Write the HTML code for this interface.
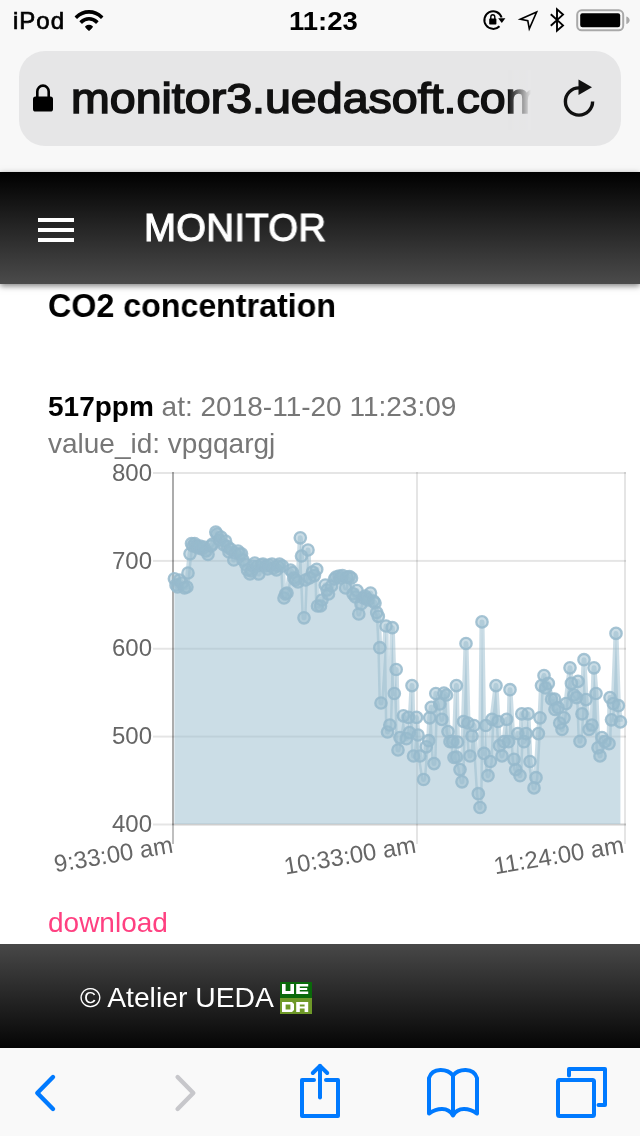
<!DOCTYPE html>
<html><head><meta charset="utf-8">
<style>
html,body{margin:0;padding:0;}
body{width:640px;height:1136px;position:relative;overflow:hidden;background:#fff;font-family:"Liberation Sans",sans-serif;}
.abs{position:absolute;}
.t{position:absolute;white-space:nowrap;transform-origin:0 50%;will-change:transform;}
#chrome{left:0;top:0;width:640px;height:172px;background:#f8f8f8;}
#urlbar{left:19px;top:51px;width:602px;height:95px;border-radius:26px;background:#e6e6e7;}
#url{left:71px;top:73px;font-size:42px;line-height:52px;color:#111;-webkit-text-stroke:1.5px #111;transform:scaleX(1.108);}
#urlfade{left:500px;top:70px;width:60px;height:60px;background:linear-gradient(90deg,rgba(230,230,231,0) 8px,rgba(230,230,231,1) 31px);}
#header{left:0;top:172px;width:640px;height:112px;background:linear-gradient(#000,#4b4b4b);box-shadow:0 2px 6px rgba(0,0,0,0.5);}
#title{left:143.6px;top:202.7px;font-size:38.5px;letter-spacing:0.3px;transform:scaleX(0.996);line-height:50px;color:#fff;-webkit-text-stroke:1.1px #fff;}
.bar{left:38px;width:36px;height:4px;background:#fff;}
#h3{left:48px;top:287.5px;transform:scaleX(0.983);font-size:32.76px;line-height:36px;font-weight:bold;color:#000;}
#l1{left:48px;top:390.7px;font-size:28px;line-height:32px;color:#777;}
#l1 b{color:#000;}
#l2{left:48px;top:427.5px;font-size:28px;line-height:32px;color:#777;}
.chart{position:absolute;left:0;top:460px;}
#dl{left:48px;top:906px;font-size:28px;line-height:34px;color:#ff4081;}
#footer{left:0;top:944px;width:640px;height:104px;background:linear-gradient(#484848,#050505);}
#copy{left:80px;top:981px;font-size:28.3px;line-height:32px;color:#fff;}
#toolbar{left:0;top:1048px;width:640px;height:88px;background:#f9f9f9;}
svg.ov{position:absolute;left:0;top:0;}
</style></head><body>
<div id="chrome" class="abs"></div>
<div class="t" style="left:12.5px;top:8px;line-height:26px;font-size:24px;letter-spacing:1px;transform:scaleX(1.0);-webkit-text-stroke:0.7px #000;">iPod</div>
<div class="t" style="left:289px;top:7.5px;line-height:26px;font-size:25px;font-weight:bold;transform:scaleX(1.1);">11:23</div>
<div id="urlbar" class="abs"></div>
<div id="url" class="t">monitor3.uedasoft.com</div>
<div id="urlfade" class="abs"></div>
<div id="header" class="abs"></div>
<div class="abs bar" style="top:218px"></div><div class="abs bar" style="top:228px"></div><div class="abs bar" style="top:238px"></div>
<div id="title" class="t">MONITOR</div>
<div id="h3" class="t">CO2 concentration</div>
<div id="l1" class="t"><b>517ppm</b> at: 2018-11-20 11:23:09</div>
<div id="l2" class="t">value_id: vpgqargj</div>
<svg class="chart" style="will-change:transform" width="640" height="440" viewBox="0 460 640 440">
<g><rect x="153" y="472" width="473" height="2" fill="rgba(0,0,0,0.1)"/><rect x="153" y="559.9" width="473" height="2" fill="rgba(0,0,0,0.1)"/><rect x="153" y="647.75" width="473" height="2" fill="rgba(0,0,0,0.1)"/><rect x="153" y="735.6" width="473" height="2" fill="rgba(0,0,0,0.1)"/><rect x="153" y="823.5" width="473" height="2" fill="rgba(0,0,0,0.1)"/><rect x="172" y="823.5" width="454" height="2" fill="rgba(0,0,0,0.1)"/><rect x="416" y="472" width="2" height="372" fill="rgba(0,0,0,0.1)"/><rect x="624" y="472" width="2" height="372" fill="rgba(0,0,0,0.1)"/><rect x="172" y="472" width="2" height="372" fill="rgba(0,0,0,0.25)"/><rect x="172" y="472" width="2" height="353" fill="rgba(0,0,0,0.1)"/></g>
<path d="M174.4,824 L174.4,578.8 L176.0,585.0 L177.5,587.0 L179.5,580.0 L182.0,583.0 L184.5,588.0 L186.9,587.0 L188.0,573.0 L190.0,553.8 L191.5,543.6 L193.0,546.0 L194.7,543.6 L196.5,546.0 L198.0,548.0 L200.0,546.0 L202.0,549.0 L204.0,547.0 L206.0,551.0 L208.0,554.5 L211.0,546.0 L212.5,544.0 L215.8,532.0 L217.0,534.0 L219.5,540.0 L221.0,537.0 L224.0,545.0 L225.5,541.0 L227.5,546.7 L229.0,552.0 L230.5,549.0 L233.8,560.0 L235.0,553.0 L238.0,551.0 L239.5,554.0 L241.5,553.8 L243.0,560.0 L246.0,564.7 L247.5,570.0 L250.0,574.0 L251.5,571.0 L253.0,566.0 L254.8,563.0 L257.5,566.0 L258.8,574.0 L261.5,565.0 L263.0,564.0 L266.0,566.0 L267.5,569.0 L269.0,565.0 L272.0,564.0 L273.5,568.0 L276.5,570.0 L278.0,566.0 L279.5,564.0 L282.5,566.0 L284.0,598.0 L285.5,594.0 L287.0,593.0 L290.5,570.0 L292.5,572.5 L294.0,578.0 L295.5,580.0 L298.0,582.0 L300.3,537.8 L301.5,556.0 L304.0,617.8 L305.5,580.0 L308.0,550.0 L309.5,578.0 L312.5,572.0 L314.4,575.6 L316.7,569.4 L317.5,606.0 L320.5,606.0 L322.0,600.0 L325.3,585.0 L327.0,590.0 L328.5,594.0 L331.5,586.0 L334.5,579.0 L336.0,577.0 L339.0,576.0 L340.5,578.0 L342.5,575.6 L345.6,588.0 L347.0,577.0 L349.4,576.6 L351.5,578.0 L353.0,593.8 L355.5,597.0 L357.0,590.6 L358.8,614.0 L361.0,604.0 L363.5,598.0 L365.0,596.0 L366.5,598.0 L368.0,600.0 L370.5,593.0 L373.5,601.0 L375.0,603.0 L376.7,612.5 L378.3,616.4 L379.8,647.7 L381.0,703.0 L386.0,626.0 L387.5,732.0 L389.8,725.0 L392.3,627.7 L394.3,693.5 L396.2,669.5 L398.0,750.0 L400.0,737.6 L403.4,715.8 L406.4,738.7 L408.5,717.4 L409.5,732.6 L412.0,685.6 L413.5,756.0 L416.5,717.4 L418.0,735.0 L420.0,756.0 L423.6,779.5 L426.3,746.8 L428.7,740.7 L429.7,717.8 L431.3,707.3 L434.0,763.6 L435.8,693.5 L439.8,704.0 L441.9,719.4 L443.9,693.0 L446.5,695.0 L448.0,731.6 L450.0,741.7 L452.6,741.7 L454.0,757.5 L456.4,685.6 L457.5,742.0 L456.5,757.0 L460.0,769.6 L462.0,781.8 L463.5,721.5 L466.0,643.5 L468.0,723.0 L470.0,756.0 L472.0,736.0 L474.0,725.5 L478.3,793.7 L480.0,807.5 L482.0,621.9 L484.0,753.4 L485.8,725.5 L488.0,775.7 L490.4,761.5 L492.0,719.4 L496.0,685.6 L498.0,721.5 L499.5,745.7 L502.0,755.9 L504.0,741.7 L506.6,719.4 L508.6,741.7 L510.0,689.7 L514.0,759.3 L515.7,769.6 L517.8,733.6 L520.0,775.7 L521.8,713.8 L524.0,741.7 L526.0,733.6 L528.0,713.8 L530.0,761.5 L534.0,787.9 L536.0,777.7 L538.4,733.6 L540.0,717.8 L541.5,685.6 L544.0,675.5 L545.6,688.0 L548.3,683.4 L551.6,699.2 L554.6,699.0 L555.0,709.5 L558.0,707.7 L559.7,723.0 L562.0,729.5 L564.0,717.8 L566.0,703.6 L570.0,667.8 L571.4,683.4 L574.0,695.0 L576.5,697.6 L578.0,681.4 L580.0,741.3 L582.0,713.8 L584.0,659.7 L586.0,699.6 L589.0,729.5 L592.0,725.0 L594.0,667.8 L596.0,693.5 L598.0,747.8 L600.0,755.9 L602.0,737.6 L604.8,741.7 L609.0,743.7 L610.0,697.6 L611.5,719.8 L613.3,703.6 L616.0,633.4 L618.4,705.7 L620.4,721.9 L620.4,824 Z" fill="rgba(151,187,205,0.5)"/>
<polyline points="174.4,578.8 176.0,585.0 177.5,587.0 179.5,580.0 182.0,583.0 184.5,588.0 186.9,587.0 188.0,573.0 190.0,553.8 191.5,543.6 193.0,546.0 194.7,543.6 196.5,546.0 198.0,548.0 200.0,546.0 202.0,549.0 204.0,547.0 206.0,551.0 208.0,554.5 211.0,546.0 212.5,544.0 215.8,532.0 217.0,534.0 219.5,540.0 221.0,537.0 224.0,545.0 225.5,541.0 227.5,546.7 229.0,552.0 230.5,549.0 233.8,560.0 235.0,553.0 238.0,551.0 239.5,554.0 241.5,553.8 243.0,560.0 246.0,564.7 247.5,570.0 250.0,574.0 251.5,571.0 253.0,566.0 254.8,563.0 257.5,566.0 258.8,574.0 261.5,565.0 263.0,564.0 266.0,566.0 267.5,569.0 269.0,565.0 272.0,564.0 273.5,568.0 276.5,570.0 278.0,566.0 279.5,564.0 282.5,566.0 284.0,598.0 285.5,594.0 287.0,593.0 290.5,570.0 292.5,572.5 294.0,578.0 295.5,580.0 298.0,582.0 300.3,537.8 301.5,556.0 304.0,617.8 305.5,580.0 308.0,550.0 309.5,578.0 312.5,572.0 314.4,575.6 316.7,569.4 317.5,606.0 320.5,606.0 322.0,600.0 325.3,585.0 327.0,590.0 328.5,594.0 331.5,586.0 334.5,579.0 336.0,577.0 339.0,576.0 340.5,578.0 342.5,575.6 345.6,588.0 347.0,577.0 349.4,576.6 351.5,578.0 353.0,593.8 355.5,597.0 357.0,590.6 358.8,614.0 361.0,604.0 363.5,598.0 365.0,596.0 366.5,598.0 368.0,600.0 370.5,593.0 373.5,601.0 375.0,603.0 376.7,612.5 378.3,616.4 379.8,647.7 381.0,703.0 386.0,626.0 387.5,732.0 389.8,725.0 392.3,627.7 394.3,693.5 396.2,669.5 398.0,750.0 400.0,737.6 403.4,715.8 406.4,738.7 408.5,717.4 409.5,732.6 412.0,685.6 413.5,756.0 416.5,717.4 418.0,735.0 420.0,756.0 423.6,779.5 426.3,746.8 428.7,740.7 429.7,717.8 431.3,707.3 434.0,763.6 435.8,693.5 439.8,704.0 441.9,719.4 443.9,693.0 446.5,695.0 448.0,731.6 450.0,741.7 452.6,741.7 454.0,757.5 456.4,685.6 457.5,742.0 456.5,757.0 460.0,769.6 462.0,781.8 463.5,721.5 466.0,643.5 468.0,723.0 470.0,756.0 472.0,736.0 474.0,725.5 478.3,793.7 480.0,807.5 482.0,621.9 484.0,753.4 485.8,725.5 488.0,775.7 490.4,761.5 492.0,719.4 496.0,685.6 498.0,721.5 499.5,745.7 502.0,755.9 504.0,741.7 506.6,719.4 508.6,741.7 510.0,689.7 514.0,759.3 515.7,769.6 517.8,733.6 520.0,775.7 521.8,713.8 524.0,741.7 526.0,733.6 528.0,713.8 530.0,761.5 534.0,787.9 536.0,777.7 538.4,733.6 540.0,717.8 541.5,685.6 544.0,675.5 545.6,688.0 548.3,683.4 551.6,699.2 554.6,699.0 555.0,709.5 558.0,707.7 559.7,723.0 562.0,729.5 564.0,717.8 566.0,703.6 570.0,667.8 571.4,683.4 574.0,695.0 576.5,697.6 578.0,681.4 580.0,741.3 582.0,713.8 584.0,659.7 586.0,699.6 589.0,729.5 592.0,725.0 594.0,667.8 596.0,693.5 598.0,747.8 600.0,755.9 602.0,737.6 604.8,741.7 609.0,743.7 610.0,697.6 611.5,719.8 613.3,703.6 616.0,633.4 618.4,705.7 620.4,721.9" fill="none" stroke="rgba(151,187,205,0.5)" stroke-width="5" stroke-linejoin="round"/>
<g fill="rgba(151,187,205,0.5)" stroke="rgba(150,186,204,0.85)" stroke-width="2.3"><circle cx="174.4" cy="578.8" r="5.7"/><circle cx="176.0" cy="585.0" r="5.7"/><circle cx="177.5" cy="587.0" r="5.7"/><circle cx="179.5" cy="580.0" r="5.7"/><circle cx="182.0" cy="583.0" r="5.7"/><circle cx="184.5" cy="588.0" r="5.7"/><circle cx="186.9" cy="587.0" r="5.7"/><circle cx="188.0" cy="573.0" r="5.7"/><circle cx="190.0" cy="553.8" r="5.7"/><circle cx="191.5" cy="543.6" r="5.7"/><circle cx="193.0" cy="546.0" r="5.7"/><circle cx="194.7" cy="543.6" r="5.7"/><circle cx="196.5" cy="546.0" r="5.7"/><circle cx="198.0" cy="548.0" r="5.7"/><circle cx="200.0" cy="546.0" r="5.7"/><circle cx="202.0" cy="549.0" r="5.7"/><circle cx="204.0" cy="547.0" r="5.7"/><circle cx="206.0" cy="551.0" r="5.7"/><circle cx="208.0" cy="554.5" r="5.7"/><circle cx="211.0" cy="546.0" r="5.7"/><circle cx="212.5" cy="544.0" r="5.7"/><circle cx="215.8" cy="532.0" r="5.7"/><circle cx="217.0" cy="534.0" r="5.7"/><circle cx="219.5" cy="540.0" r="5.7"/><circle cx="221.0" cy="537.0" r="5.7"/><circle cx="224.0" cy="545.0" r="5.7"/><circle cx="225.5" cy="541.0" r="5.7"/><circle cx="227.5" cy="546.7" r="5.7"/><circle cx="229.0" cy="552.0" r="5.7"/><circle cx="230.5" cy="549.0" r="5.7"/><circle cx="233.8" cy="560.0" r="5.7"/><circle cx="235.0" cy="553.0" r="5.7"/><circle cx="238.0" cy="551.0" r="5.7"/><circle cx="239.5" cy="554.0" r="5.7"/><circle cx="241.5" cy="553.8" r="5.7"/><circle cx="243.0" cy="560.0" r="5.7"/><circle cx="246.0" cy="564.7" r="5.7"/><circle cx="247.5" cy="570.0" r="5.7"/><circle cx="250.0" cy="574.0" r="5.7"/><circle cx="251.5" cy="571.0" r="5.7"/><circle cx="253.0" cy="566.0" r="5.7"/><circle cx="254.8" cy="563.0" r="5.7"/><circle cx="257.5" cy="566.0" r="5.7"/><circle cx="258.8" cy="574.0" r="5.7"/><circle cx="261.5" cy="565.0" r="5.7"/><circle cx="263.0" cy="564.0" r="5.7"/><circle cx="266.0" cy="566.0" r="5.7"/><circle cx="267.5" cy="569.0" r="5.7"/><circle cx="269.0" cy="565.0" r="5.7"/><circle cx="272.0" cy="564.0" r="5.7"/><circle cx="273.5" cy="568.0" r="5.7"/><circle cx="276.5" cy="570.0" r="5.7"/><circle cx="278.0" cy="566.0" r="5.7"/><circle cx="279.5" cy="564.0" r="5.7"/><circle cx="282.5" cy="566.0" r="5.7"/><circle cx="284.0" cy="598.0" r="5.7"/><circle cx="285.5" cy="594.0" r="5.7"/><circle cx="287.0" cy="593.0" r="5.7"/><circle cx="290.5" cy="570.0" r="5.7"/><circle cx="292.5" cy="572.5" r="5.7"/><circle cx="294.0" cy="578.0" r="5.7"/><circle cx="295.5" cy="580.0" r="5.7"/><circle cx="298.0" cy="582.0" r="5.7"/><circle cx="300.3" cy="537.8" r="5.7"/><circle cx="301.5" cy="556.0" r="5.7"/><circle cx="304.0" cy="617.8" r="5.7"/><circle cx="305.5" cy="580.0" r="5.7"/><circle cx="308.0" cy="550.0" r="5.7"/><circle cx="309.5" cy="578.0" r="5.7"/><circle cx="312.5" cy="572.0" r="5.7"/><circle cx="314.4" cy="575.6" r="5.7"/><circle cx="316.7" cy="569.4" r="5.7"/><circle cx="317.5" cy="606.0" r="5.7"/><circle cx="320.5" cy="606.0" r="5.7"/><circle cx="322.0" cy="600.0" r="5.7"/><circle cx="325.3" cy="585.0" r="5.7"/><circle cx="327.0" cy="590.0" r="5.7"/><circle cx="328.5" cy="594.0" r="5.7"/><circle cx="331.5" cy="586.0" r="5.7"/><circle cx="334.5" cy="579.0" r="5.7"/><circle cx="336.0" cy="577.0" r="5.7"/><circle cx="339.0" cy="576.0" r="5.7"/><circle cx="340.5" cy="578.0" r="5.7"/><circle cx="342.5" cy="575.6" r="5.7"/><circle cx="345.6" cy="588.0" r="5.7"/><circle cx="347.0" cy="577.0" r="5.7"/><circle cx="349.4" cy="576.6" r="5.7"/><circle cx="351.5" cy="578.0" r="5.7"/><circle cx="353.0" cy="593.8" r="5.7"/><circle cx="355.5" cy="597.0" r="5.7"/><circle cx="357.0" cy="590.6" r="5.7"/><circle cx="358.8" cy="614.0" r="5.7"/><circle cx="361.0" cy="604.0" r="5.7"/><circle cx="363.5" cy="598.0" r="5.7"/><circle cx="365.0" cy="596.0" r="5.7"/><circle cx="366.5" cy="598.0" r="5.7"/><circle cx="368.0" cy="600.0" r="5.7"/><circle cx="370.5" cy="593.0" r="5.7"/><circle cx="373.5" cy="601.0" r="5.7"/><circle cx="375.0" cy="603.0" r="5.7"/><circle cx="376.7" cy="612.5" r="5.7"/><circle cx="378.3" cy="616.4" r="5.7"/><circle cx="379.8" cy="647.7" r="5.7"/><circle cx="381.0" cy="703.0" r="5.7"/><circle cx="386.0" cy="626.0" r="5.7"/><circle cx="387.5" cy="732.0" r="5.7"/><circle cx="389.8" cy="725.0" r="5.7"/><circle cx="392.3" cy="627.7" r="5.7"/><circle cx="394.3" cy="693.5" r="5.7"/><circle cx="396.2" cy="669.5" r="5.7"/><circle cx="398.0" cy="750.0" r="5.7"/><circle cx="400.0" cy="737.6" r="5.7"/><circle cx="403.4" cy="715.8" r="5.7"/><circle cx="406.4" cy="738.7" r="5.7"/><circle cx="408.5" cy="717.4" r="5.7"/><circle cx="409.5" cy="732.6" r="5.7"/><circle cx="412.0" cy="685.6" r="5.7"/><circle cx="413.5" cy="756.0" r="5.7"/><circle cx="416.5" cy="717.4" r="5.7"/><circle cx="418.0" cy="735.0" r="5.7"/><circle cx="420.0" cy="756.0" r="5.7"/><circle cx="423.6" cy="779.5" r="5.7"/><circle cx="426.3" cy="746.8" r="5.7"/><circle cx="428.7" cy="740.7" r="5.7"/><circle cx="429.7" cy="717.8" r="5.7"/><circle cx="431.3" cy="707.3" r="5.7"/><circle cx="434.0" cy="763.6" r="5.7"/><circle cx="435.8" cy="693.5" r="5.7"/><circle cx="439.8" cy="704.0" r="5.7"/><circle cx="441.9" cy="719.4" r="5.7"/><circle cx="443.9" cy="693.0" r="5.7"/><circle cx="446.5" cy="695.0" r="5.7"/><circle cx="448.0" cy="731.6" r="5.7"/><circle cx="450.0" cy="741.7" r="5.7"/><circle cx="452.6" cy="741.7" r="5.7"/><circle cx="454.0" cy="757.5" r="5.7"/><circle cx="456.4" cy="685.6" r="5.7"/><circle cx="457.5" cy="742.0" r="5.7"/><circle cx="456.5" cy="757.0" r="5.7"/><circle cx="460.0" cy="769.6" r="5.7"/><circle cx="462.0" cy="781.8" r="5.7"/><circle cx="463.5" cy="721.5" r="5.7"/><circle cx="466.0" cy="643.5" r="5.7"/><circle cx="468.0" cy="723.0" r="5.7"/><circle cx="470.0" cy="756.0" r="5.7"/><circle cx="472.0" cy="736.0" r="5.7"/><circle cx="474.0" cy="725.5" r="5.7"/><circle cx="478.3" cy="793.7" r="5.7"/><circle cx="480.0" cy="807.5" r="5.7"/><circle cx="482.0" cy="621.9" r="5.7"/><circle cx="484.0" cy="753.4" r="5.7"/><circle cx="485.8" cy="725.5" r="5.7"/><circle cx="488.0" cy="775.7" r="5.7"/><circle cx="490.4" cy="761.5" r="5.7"/><circle cx="492.0" cy="719.4" r="5.7"/><circle cx="496.0" cy="685.6" r="5.7"/><circle cx="498.0" cy="721.5" r="5.7"/><circle cx="499.5" cy="745.7" r="5.7"/><circle cx="502.0" cy="755.9" r="5.7"/><circle cx="504.0" cy="741.7" r="5.7"/><circle cx="506.6" cy="719.4" r="5.7"/><circle cx="508.6" cy="741.7" r="5.7"/><circle cx="510.0" cy="689.7" r="5.7"/><circle cx="514.0" cy="759.3" r="5.7"/><circle cx="515.7" cy="769.6" r="5.7"/><circle cx="517.8" cy="733.6" r="5.7"/><circle cx="520.0" cy="775.7" r="5.7"/><circle cx="521.8" cy="713.8" r="5.7"/><circle cx="524.0" cy="741.7" r="5.7"/><circle cx="526.0" cy="733.6" r="5.7"/><circle cx="528.0" cy="713.8" r="5.7"/><circle cx="530.0" cy="761.5" r="5.7"/><circle cx="534.0" cy="787.9" r="5.7"/><circle cx="536.0" cy="777.7" r="5.7"/><circle cx="538.4" cy="733.6" r="5.7"/><circle cx="540.0" cy="717.8" r="5.7"/><circle cx="541.5" cy="685.6" r="5.7"/><circle cx="544.0" cy="675.5" r="5.7"/><circle cx="545.6" cy="688.0" r="5.7"/><circle cx="548.3" cy="683.4" r="5.7"/><circle cx="551.6" cy="699.2" r="5.7"/><circle cx="554.6" cy="699.0" r="5.7"/><circle cx="555.0" cy="709.5" r="5.7"/><circle cx="558.0" cy="707.7" r="5.7"/><circle cx="559.7" cy="723.0" r="5.7"/><circle cx="562.0" cy="729.5" r="5.7"/><circle cx="564.0" cy="717.8" r="5.7"/><circle cx="566.0" cy="703.6" r="5.7"/><circle cx="570.0" cy="667.8" r="5.7"/><circle cx="571.4" cy="683.4" r="5.7"/><circle cx="574.0" cy="695.0" r="5.7"/><circle cx="576.5" cy="697.6" r="5.7"/><circle cx="578.0" cy="681.4" r="5.7"/><circle cx="580.0" cy="741.3" r="5.7"/><circle cx="582.0" cy="713.8" r="5.7"/><circle cx="584.0" cy="659.7" r="5.7"/><circle cx="586.0" cy="699.6" r="5.7"/><circle cx="589.0" cy="729.5" r="5.7"/><circle cx="592.0" cy="725.0" r="5.7"/><circle cx="594.0" cy="667.8" r="5.7"/><circle cx="596.0" cy="693.5" r="5.7"/><circle cx="598.0" cy="747.8" r="5.7"/><circle cx="600.0" cy="755.9" r="5.7"/><circle cx="602.0" cy="737.6" r="5.7"/><circle cx="604.8" cy="741.7" r="5.7"/><circle cx="609.0" cy="743.7" r="5.7"/><circle cx="610.0" cy="697.6" r="5.7"/><circle cx="611.5" cy="719.8" r="5.7"/><circle cx="613.3" cy="703.6" r="5.7"/><circle cx="616.0" cy="633.4" r="5.7"/><circle cx="618.4" cy="705.7" r="5.7"/><circle cx="620.4" cy="721.9" r="5.7"/></g>
<g font-family="Liberation Sans, sans-serif" font-size="24" fill="#666"><text x="152" y="480.6" text-anchor="end">800</text><text x="152" y="568.5" text-anchor="end">700</text><text x="152" y="656.35" text-anchor="end">600</text><text x="152" y="744.2" text-anchor="end">500</text><text x="152" y="832.1" text-anchor="end">400</text><text transform="translate(174,852.5) rotate(-9.5)" text-anchor="end">9:33:00 am</text><text transform="translate(417,852.5) rotate(-9.5)" text-anchor="end">10:33:00 am</text><text transform="translate(625,852.5) rotate(-9.5)" text-anchor="end">11:24:00 am</text></g>
</svg>
<div id="dl" class="t">download</div>
<div id="footer" class="abs"></div>
<div id="copy" class="t">© Atelier UEDA</div>
<div id="toolbar" class="abs"></div>
<svg class="ov" width="640" height="1136" viewBox="0 0 640 1136">
<!-- wifi -->
<defs><clipPath id="wf"><path d="M89,31 L69,11 L69,0 L109,0 L109,11 Z"/></clipPath></defs>
<g clip-path="url(#wf)" fill="none" stroke="#000" stroke-width="3.6">
<circle cx="89" cy="29.5" r="17.6"/><circle cx="89" cy="29.5" r="10.8"/><circle cx="89" cy="29.5" r="3" fill="#000"/>
</g>
<!-- rotation lock -->
<g fill="none" stroke="#000" stroke-width="2">
<path d="M501.6,17.5 A8.8,8.8 0 1 0 499.5,26.2"/>
</g>
<path d="M498.2,18.2 L505.4,18.2 L501.8,23 Z" fill="#000"/>
<rect x="489.2" y="18.6" width="7.2" height="6" rx="0.8" fill="#000"/>
<path d="M490.8,19 V17 A2,2.2 0 0 1 494.8,17 V19" fill="none" stroke="#000" stroke-width="1.4"/>
<!-- location -->
<path d="M536.6,12 L520.3,19.3 L527.8,20.8 L529.3,28.8 Z" fill="none" stroke="#000" stroke-width="1.6" stroke-linejoin="miter"/>
<!-- bluetooth -->
<path d="M550.8,14.2 L563,25.4 L557,30.6 L557,9.4 L563,14.6 L550.8,25.8" fill="none" stroke="#000" stroke-width="1.9" stroke-linejoin="miter"/>
<!-- battery -->
<rect x="577.2" y="10.3" width="46" height="20" rx="4.5" fill="none" stroke="#a9a9a9" stroke-width="2"/>
<rect x="580.2" y="13.3" width="40" height="14" rx="2.2" fill="#000"/>
<path d="M626.3,16.6 Q629.6,17.5 629.6,20.3 Q629.6,23.1 626.3,24 Z" fill="#a9a9a9"/>
<!-- lock -->
<rect x="33" y="96.5" width="20" height="15" rx="2.6" fill="#000"/>
<path d="M37.3,97 V91.5 A5.7,5.9 0 0 1 48.7,91.5 V97" fill="none" stroke="#000" stroke-width="2.6"/>
<!-- reload -->
<path d="M592.6,101.5 A13.6,13.6 0 1 1 579,87.9" fill="none" stroke="#111" stroke-width="3.4"/>
<path d="M578.5,79.5 L592,87.2 L578.5,95 Z" fill="#111"/>
<!-- toolbar icons -->
<g fill="none" stroke="#007aff" stroke-width="4.4" stroke-linecap="round" stroke-linejoin="round">
<path d="M53,1077 L37.3,1093 L53,1109"/>
</g>
<g fill="none" stroke="#c7c7cb" stroke-width="4.4" stroke-linecap="round" stroke-linejoin="round">
<path d="M177.6,1077 L193.3,1093 L177.6,1109"/>
</g>
<g fill="none" stroke="#007aff" stroke-width="4" stroke-linecap="round" stroke-linejoin="round">
<path d="M314,1080 L302,1080 L302,1116 L338,1116 L338,1080 L326,1080"/>
<path d="M320,1097.5 L320,1066"/>
<path d="M312.8,1073 L320,1065.8 L327.2,1073"/>
<path d="M453,1075.5 C447.5,1068.5 432.5,1067 429,1078 L429,1113.5 C437,1108 448,1106.5 453,1115.5 C458,1106.5 469,1108 477,1113.5 L477,1078 C473.5,1067 458.5,1068.5 453,1075.5 L453,1115.5"/>
<rect x="558" y="1080" width="36" height="36" rx="1.5"/>
<path d="M569,1075.5 L569,1069 L605,1069 L605,1105 L598.5,1105"/>
</g>
<!-- logo -->
<rect x="280" y="982" width="32" height="16" fill="#0a690a"/>
<rect x="280" y="998" width="32" height="16" fill="#6e9828"/>
<g fill="#fff">
<path d="M282,984 h3.6 v7 h4.8 v-7 h3.6 v10 h-12 Z"/>
<path d="M296.2,984 h12 v2.4 h-8.4 v1.5 h7.4 v2.2 h-7.4 v1.5 h8.4 v2.4 h-12 Z"/>
<path fill-rule="evenodd" d="M282,1002 h10 l2,2 v6 l-2,2 h-10 Z M285.6,1004.4 v5.2 h4.8 v-5.2 Z"/>
<path fill-rule="evenodd" d="M296.2,1002 h12 v10 h-3.6 v-3.4 h-4.8 v3.4 h-3.6 Z M299.8,1004.4 v2 h4.8 v-2 Z"/>
</g>
</svg>

</body></html>
